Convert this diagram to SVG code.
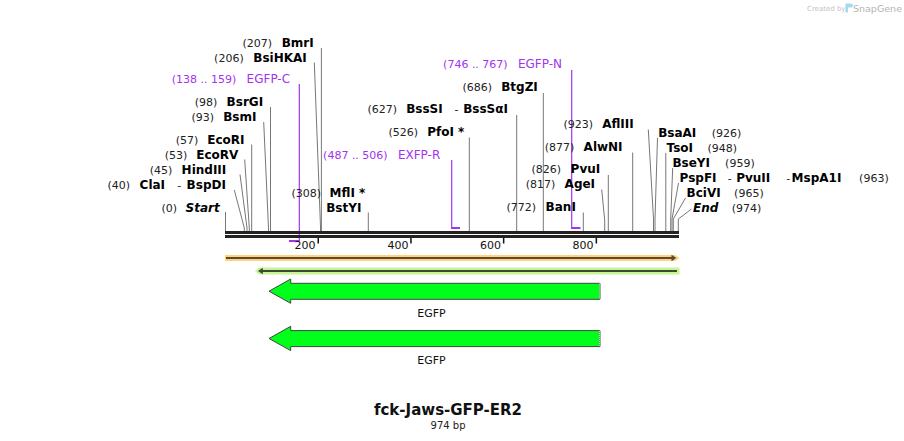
<svg xmlns="http://www.w3.org/2000/svg" width="904" height="441" viewBox="0 0 904 441">
<style>
text{font-family:"DejaVu Sans","Verdana",sans-serif}
.n{font-size:11px;fill:#222}
.b{font-size:12px;font-weight:bold;fill:#000}
.bi{font-size:12px;font-weight:bold;font-style:italic;fill:#000}
.pn{font-size:11px;fill:#a233f0}
.pm{font-size:12px;fill:#a233f0}
.cut{fill:none;stroke:#777;stroke-width:1}
.pl{fill:none;stroke:#a233f0;stroke-width:1.2}
.pbar{fill:#a233f0}
.tick{font-size:11px;fill:#111}
.egfp{fill:#00ff1a;stroke:#444;stroke-width:1}
.flab{font-size:11px;fill:#111}
</style>
<rect width="904" height="441" fill="#fff"/>

<g id="watermark">
<text x="807" y="10.5" style="font-size:7px;fill:#c4c4c4">Created by</text>
<path d="M845.5 3.5 h5.5 a2 2 0 0 1 0 4 h-3 v5 h-2.5 z" fill="#a6d8f0"/>
<text x="853" y="12" style="font-size:9.5px;fill:#b4b4b4">SnapGene</text>
</g>

<g id="connectors">
<line class="pl" x1="299.3" y1="84" x2="299.3" y2="241"/>
<rect class="pbar" x="289" y="240" width="10.5" height="2"/>
<line class="pl" x1="451.7" y1="160" x2="451.7" y2="228"/>
<rect class="pbar" x="451" y="227" width="9" height="2"/>
<line class="pl" x1="571.7" y1="70" x2="571.7" y2="228"/>
<rect class="pbar" x="571" y="227" width="9.5" height="2"/>
<polyline class="cut" points="321.4,48 321.4,231"/>
<polyline class="cut" points="314.3,62.5 320.5,227 320.5,231"/>
<polyline class="cut" points="270.5,107 270.5,231"/>
<polyline class="cut" points="263.7,122 268.5,228 268.5,231"/>
<polyline class="cut" points="251.7,144.5 251.7,231"/>
<polyline class="cut" points="244.7,159.5 249.3,228 249.3,231"/>
<polyline class="cut" points="240,174.5 247,228 247,231"/>
<polyline class="cut" points="234.3,190 244.3,228 244.3,231"/>
<polyline class="cut" points="225.5,212 225.5,231"/>
<polyline class="cut" points="368.3,212.5 368.3,231"/>
<polyline class="cut" points="469.3,137.5 469.3,231"/>
<polyline class="cut" points="516.7,115 516.7,231"/>
<polyline class="cut" points="543.3,93 543.3,231"/>
<polyline class="cut" points="648.3,129.5 653.5,219 653.5,231"/>
<polyline class="cut" points="632.7,152.5 632.7,231"/>
<polyline class="cut" points="608.3,175 608.3,231"/>
<polyline class="cut" points="601.7,189.5 604.7,220 604.7,231"/>
<polyline class="cut" points="583.3,212.5 583.3,231"/>
<polyline class="cut" points="657.5,138 655,219 655,231"/>
<polyline class="cut" points="665.8,153 665.8,231"/>
<polyline class="cut" points="672.7,168 670.7,219 670.7,231"/>
<polyline class="cut" points="678.5,183 672,219 672,231"/>
<polyline class="cut" points="685.5,198 673.3,219 673.3,231"/>
<polyline class="cut" points="691.5,209 678.3,219 678.3,231"/>
</g>

<g id="backbone">
<rect x="225" y="231" width="454" height="3" fill="#222"/>
<rect x="225" y="235" width="454" height="3" fill="#222"/>
<rect x="317.5" y="238" width="1.5" height="5.5" fill="#111"/>
<rect x="410.2" y="238" width="1.5" height="5.5" fill="#111"/>
<rect x="502.9" y="238" width="1.5" height="5.5" fill="#111"/>
<rect x="595.6" y="238" width="1.5" height="5.5" fill="#111"/>
<text class="tick" x="315.5" y="248.5" text-anchor="end">200</text>
<text class="tick" x="408.5" y="248.5" text-anchor="end">400</text>
<text class="tick" x="501" y="248.5" text-anchor="end">600</text>
<text class="tick" x="593.5" y="248.5" text-anchor="end">800</text>
</g>

<g id="site-BmrI"><text y="46.5"><tspan class="n" x="242.4">(207)</tspan><tspan class="b" x="281.7">BmrI</tspan></text></g>
<g id="site-BsiHKAI"><text y="61.5"><tspan class="n" x="214.1">(206)</tspan><tspan class="b" x="253.3">BsiHKAI</tspan></text></g>
<g id="primer-EGFP-C"><text y="82.5"><tspan class="pn" x="171.8">(138 .. 159)</tspan><tspan class="pm" x="246.6">EGFP-C</tspan></text></g>
<g id="site-BsrGI"><text y="105.5"><tspan class="n" x="194.8">(98)</tspan><tspan class="b" x="226.6">BsrGI</tspan></text></g>
<g id="site-BsmI"><text y="120.5"><tspan class="n" x="191.4">(93)</tspan><tspan class="b" x="223.2">BsmI</tspan></text></g>
<g id="site-EcoRI"><text y="143.5"><tspan class="n" x="175.8">(57)</tspan><tspan class="b" x="207.2">EcoRI</tspan></text></g>
<g id="site-EcoRV"><text y="158.5"><tspan class="n" x="164.8">(53)</tspan><tspan class="b" x="196.2">EcoRV</tspan></text></g>
<g id="site-HindIII"><text y="173.5"><tspan class="n" x="149.8">(45)</tspan><tspan class="b" x="181.6">HindIII</tspan></text></g>
<g id="site-ClaI"><text y="188.5"><tspan class="n" x="107.4">(40)</tspan><tspan class="b" x="139.6">ClaI</tspan><tspan class="n" x="177.2">-</tspan><tspan class="b" x="186.6">BspDI</tspan></text></g>
<g id="site-Start"><text y="211.5"><tspan class="n" x="161.4">(0)</tspan><tspan class="bi" x="185.5">Start</tspan></text></g>
<g id="site-MflI"><text y="196.5"><tspan class="n" x="291.4">(308)</tspan><tspan class="b" x="329.6">MflI *</tspan></text>
<text class="b" x="326.2" y="211.5">BstYI</text></g>
<g id="primer-EXFP-R"><text y="158.5"><tspan class="pn" x="323.1">(487 .. 506)</tspan><tspan class="pm" x="397.9">EXFP-R</tspan></text></g>
<g id="site-PfoI"><text y="135.5"><tspan class="n" x="388.4">(526)</tspan><tspan class="b" x="427.2">PfoI *</tspan></text></g>
<g id="site-BssSI"><text y="112.5"><tspan class="n" x="367.4">(627)</tspan><tspan class="b" x="406.2">BssSI</tspan><tspan class="n" x="454.5">-</tspan><tspan class="b" x="463.2">BssSαI</tspan></text></g>
<g id="site-BtgZI"><text y="90.5"><tspan class="n" x="462.4">(686)</tspan><tspan class="b" x="501.2">BtgZI</tspan></text></g>
<g id="primer-EGFP-N"><text y="67.5"><tspan class="pn" x="443.1">(746 .. 767)</tspan><tspan class="pm" x="517.9">EGFP-N</tspan></text></g>
<g id="site-AflIII"><text y="127.5"><tspan class="n" x="563.4">(923)</tspan><tspan class="b" x="602.2">AflIII</tspan></text></g>
<g id="site-AlwNI"><text y="150.5"><tspan class="n" x="544.8">(877)</tspan><tspan class="b" x="583.6">AlwNI</tspan></text></g>
<g id="site-PvuI"><text y="172.5"><tspan class="n" x="531.4">(826)</tspan><tspan class="b" x="570.6">PvuI</tspan></text></g>
<g id="site-AgeI"><text y="187.5"><tspan class="n" x="525.8">(817)</tspan><tspan class="b" x="564.6">AgeI</tspan></text></g>
<g id="site-BanI"><text y="210.5"><tspan class="n" x="506.4">(772)</tspan><tspan class="b" x="545.6">BanI</tspan></text></g>

<g id="site-BsaAI"><text y="136.5"><tspan class="b" x="658.2">BsaAI</tspan><tspan class="n" x="711.8">(926)</tspan></text></g>
<g id="site-TsoI"><text y="151.5"><tspan class="b" x="666.6">TsoI</tspan><tspan class="n" x="707.4">(948)</tspan></text></g>
<g id="site-BseYI"><text y="166.5"><tspan class="b" x="672.4">BseYI</tspan><tspan class="n" x="725.1">(959)</tspan></text></g>
<g id="site-PspFI"><text y="181.5"><tspan class="b" x="679.6">PspFI</tspan><tspan class="n" x="727.8">-</tspan><tspan class="b" x="736.2">PvuII</tspan><tspan class="n" x="786.2">-</tspan><tspan class="b" x="791.6">MspA1I</tspan><tspan class="n" x="859.1">(963)</tspan></text></g>
<g id="site-BciVI"><text y="196.5"><tspan class="b" x="686.6">BciVI</tspan><tspan class="n" x="734.1">(965)</tspan></text></g>
<g id="site-End"><text y="211.5"><tspan class="bi" x="693">End</tspan><tspan class="n" x="731.8">(974)</tspan></text></g>

<g id="feature-forward">
<polygon points="225,255 675,255 679.5,258 675,261 225,261" fill="#ffd27f"/>
<line x1="226" y1="258" x2="673" y2="258" stroke="#5a4a33" stroke-width="2"/>
<polygon points="671.5,254.7 676.3,258 671.5,261.3" fill="#5a4a33"/>
</g>
<g id="feature-reverse">
<polygon points="259,267.5 679.5,267.5 679.5,274.5 259,274.5 255,271" fill="#c6f594"/>
<line x1="261" y1="271" x2="677" y2="271" stroke="#3d4835" stroke-width="2.2"/>
<polygon points="262.8,267.7 258,271 262.8,274.3" fill="#3d4835"/>
</g>

<g id="feature-EGFP-1">
<polygon class="egfp" points="269,291.2 290.7,279 290.7,283.3 600,283.3 600,299.3 290.7,299.3 290.7,303.3"/>
<line x1="599.7" y1="283.5" x2="599.7" y2="299.2" stroke="#fff" stroke-width="1" stroke-dasharray="1,1"/>
<text class="flab" x="431.5" y="316.5" text-anchor="middle">EGFP</text>
</g>
<g id="feature-EGFP-2">
<polygon class="egfp" points="269,338.5 290.7,326.3 290.7,330.6 600,330.6 600,346.6 290.7,346.6 290.7,350.6"/>
<line x1="599.7" y1="330.8" x2="599.7" y2="346.5" stroke="#fff" stroke-width="1" stroke-dasharray="1,1"/>
<text class="flab" x="431.5" y="363.8" text-anchor="middle">EGFP</text>
</g>

<g id="title">
<text x="448" y="415" text-anchor="middle" style="font-size:15px;font-weight:bold;fill:#111">fck-Jaws-GFP-ER2</text>
<text x="448" y="428.5" text-anchor="middle" style="font-size:10px;fill:#222">974 bp</text>
</g>
</svg>
